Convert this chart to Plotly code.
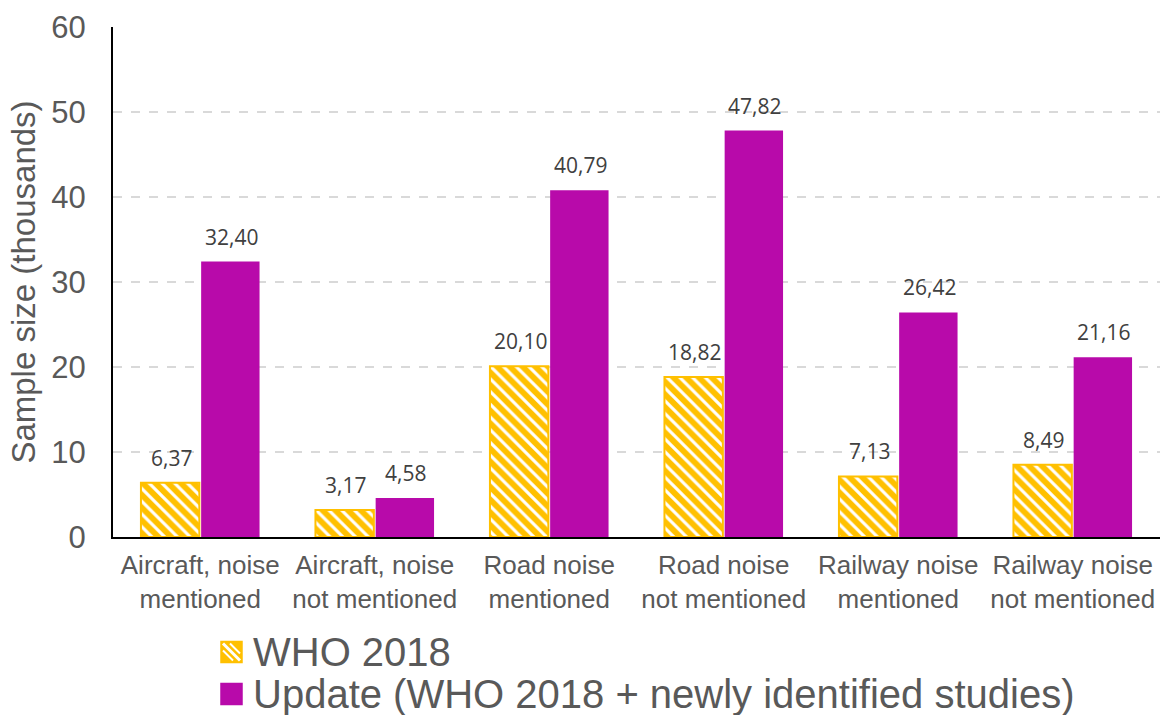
import plotly.graph_objects as go

categories = [
    "Aircraft, noise<br>mentioned",
    "Aircraft, noise<br>not mentioned",
    "Road noise<br>mentioned",
    "Road noise<br>not mentioned",
    "Railway noise<br>mentioned",
    "Railway noise<br>not mentioned",
]
who_2018 = [6.37, 3.17, 20.10, 18.82, 7.13, 8.49]
update = [32.40, 4.58, 40.79, 47.82, 26.42, 21.16]
series_names = ["WHO 2018", "Update (WHO 2018 + newly identified studies)"]

YELLOW = "#FFC000"
PURPLE = "#B80AAA"
TEXT_GREY = "#595959"

W, H = 1164, 715
M_L, M_R, M_T, M_B = 113, 4, 27, 178
PLOT_W = W - M_L - M_R
PLOT_H = H - M_T - M_B


def px_x(px):
    return (px - M_L) / PLOT_W


def px_y(py):
    return (H - M_B - py) / PLOT_H


def fmt(v):
    return f"{v:.2f}".replace(".", ",")


fig = go.Figure()
fig.add_trace(go.Bar(
    x=categories, y=who_2018, name=series_names[0], showlegend=False,
    marker=dict(
        color=YELLOW,
        line=dict(color=YELLOW, width=2),
        pattern=dict(shape="\\", fgcolor="white", bgcolor=YELLOW,
                     size=9, solidity=0.35, fillmode="replace"),
    ),
))
fig.add_trace(go.Bar(
    x=categories, y=update, name=series_names[1], showlegend=False,
    marker=dict(color=PURPLE, line=dict(width=0)),
))

# value labels above each bar
for series, xshift in ((who_2018, -29), (update, 31)):
    for c, v in zip(categories, series):
        fig.add_annotation(
            x=c, y=v, text=fmt(v), showarrow=False, xshift=xshift,
            yshift=25, font=dict(family="Open Sans", size=21, color="#404040"),
        )

# legend drawn below the plot: swatches + labels
shapes = []
sw = 21
for i, (name, y_c) in enumerate(zip(series_names, (652, 694))):
    x0, x1 = 221, 221 + sw
    y0, y1 = y_c - sw / 2, y_c + sw / 2
    color = YELLOW if i == 0 else PURPLE
    shapes.append(dict(
        type="rect", xref="paper", yref="paper",
        x0=px_x(x0), x1=px_x(x1), y0=px_y(y1), y1=px_y(y0),
        fillcolor=color, line=dict(color=color, width=1.5),
    ))
    if i == 0:
        # white diagonal stripes of the hatched swatch
        for off in (-7, 0, 7):
            sx0, sy0 = x0 + 2 + max(off, 0), y0 + 2 + max(-off, 0)
            sx1, sy1 = x1 - 2 - max(-off, 0), y1 - 2 - max(off, 0)
            shapes.append(dict(
                type="line", xref="paper", yref="paper",
                x0=px_x(sx0), y0=px_y(sy0), x1=px_x(sx1), y1=px_y(sy1),
                line=dict(color="white", width=3 if off == 0 else 2),
            ))
    fig.add_annotation(
        xref="paper", yref="paper", x=px_x(251), y=px_y(y_c),
        xanchor="left", yanchor="middle", text=name, showarrow=False,
        font=dict(family="Liberation Sans, Arial", size=40, color=TEXT_GREY),
    )

fig.update_layout(
    width=W, height=H,
    margin=dict(l=M_L, r=M_R, t=M_T, b=M_B, autoexpand=False),
    paper_bgcolor="white", plot_bgcolor="white",
    barmode="group", bargap=0.31, bargroupgap=0.03,
    separators=",.",
    showlegend=False,
    shapes=shapes,
    font=dict(family="Liberation Sans, Arial", color=TEXT_GREY),
    xaxis=dict(
        showline=True, linecolor="black", linewidth=2,
        tickfont=dict(size=26, color=TEXT_GREY),
        ticklabelstandoff=4,
        showgrid=False,
    ),
    yaxis=dict(
        range=[0, 60], dtick=10, showline=True, linecolor="black", linewidth=2,
        showgrid=True, gridcolor="#D9D9D9", griddash="dash", gridwidth=1.5,
        tickfont=dict(size=31, color=TEXT_GREY),
        ticklabelstandoff=19,
        zeroline=False,
        title=dict(text="Sample size (thousands)", font=dict(size=33, color=TEXT_GREY),
                   standoff=6),
    ),
)

fig.write_html("out.html")
